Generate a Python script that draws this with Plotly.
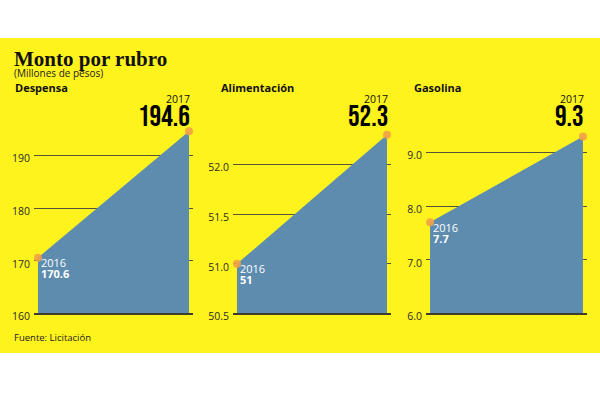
import plotly.graph_objects as go

# ---- data ----
years = [2016, 2017]
categories = ["Despensa", "Alimentación", "Gasolina"]
despensa = [170.6, 194.6]
alimentacion = [51, 52.3]
gasolina = [7.7, 9.3]
series = [despensa, alimentacion, gasolina]

ticks_despensa = [160, 170, 180, 190]
ticks_alimentacion = [50.5, 51.0, 51.5, 52.0]
ticks_gasolina = [6.0, 7.0, 8.0, 9.0]
tick_sets = [ticks_despensa, ticks_alimentacion, ticks_gasolina]
tick_formats = ["d", ".1f", ".1f"]

title = "Monto por rubro"
subtitle = "(Millones de pesos)"
source = "Fuente: Licitación"

# ---- style ----
W, H = 600, 400
YELLOW = "#FFF31E"
BLUE = "#5D8CAF"
ORANGE = "#F2A145"
DARK = "#2b2b2b"
GRID = "#55543a"

x_domains = [(34, 193), (233, 391), (426, 587)]
y_dom = (1 - 321.5 / H, 1 - 125 / H)
y_ranges = [(160, 196.39), (50.5, 52.43), (6.0, 9.573)]
pad = 4 / 151

fig = go.Figure()

for i, (name, vals) in enumerate(zip(categories, series)):
    xa = "x" if i == 0 else f"x{i+1}"
    ya = "y" if i == 0 else f"y{i+1}"
    fig.add_trace(go.Scatter(
        x=years, y=vals, xaxis=xa, yaxis=ya, mode="lines",
        line=dict(width=0, color=BLUE), fill="tozeroy", fillcolor=BLUE,
        hoverinfo="skip", showlegend=False))
    fig.add_trace(go.Scatter(
        x=years, y=vals, xaxis=xa, yaxis=ya, mode="markers",
        marker=dict(size=8, color=ORANGE, opacity=0.9),
        cliponaxis=False, showlegend=False, hoverinfo="skip"))

    x0, x1 = x_domains[i]
    xkey = "xaxis" if i == 0 else f"xaxis{i+1}"
    ykey = "yaxis" if i == 0 else f"yaxis{i+1}"
    fig.update_layout(**{
        xkey: dict(domain=[x0 / W, x1 / W], range=[years[0] - pad, years[1] + pad],
                   showgrid=False, zeroline=False, showticklabels=False,
                   showline=True, linecolor="#3d3d2e", linewidth=2,
                   anchor=ya, fixedrange=True),
        ykey: dict(domain=list(y_dom), range=list(y_ranges[i]),
                   tickvals=tick_sets[i], tickformat=tick_formats[i],
                   showgrid=True, gridcolor=GRID, gridwidth=1,
                   zeroline=False, showline=False, ticks="",
                   ticklabelshift=3, ticklabelstandoff=3,
                   tickfont=dict(family="Open Sans", size=10.5, color=DARK),
                   anchor=xa, fixedrange=True),
    })

    # panel title
    fig.add_annotation(text=f"<b>{name}</b>", xref="paper", yref="paper",
                       x=(x0 - 21 if i == 0 else x0 - 14) / W, y=1 - 90 / H,
                       xanchor="left", yanchor="middle", showarrow=False,
                       font=dict(family="Open Sans", size=11, color="#111"))
    # 2016 labels
    fig.add_annotation(text=str(years[0]), xref=xa, yref=ya, x=years[0], y=vals[0],
                       xanchor="left", yanchor="middle", xshift=1, yshift=-5,
                       showarrow=False,
                       font=dict(family="Open Sans", size=11, color="white"))
    fig.add_annotation(text=f"<b>{vals[0]:g}</b>", xref=xa, yref=ya, x=years[0], y=vals[0],
                       xanchor="left", yanchor="middle", xshift=1, yshift=-16,
                       showarrow=False,
                       font=dict(family="Open Sans", size=11, color="white"))
    # 2017 labels
    fig.add_annotation(text=str(years[1]), xref=xa, yref="paper", x=years[1], y=1 - 102 / H,
                       xanchor="right", yanchor="middle", xshift=3,
                       showarrow=False,
                       font=dict(family="Open Sans", size=10.5, color="#111"))
    fig.add_annotation(text=f"{vals[1]:g}", xref=xa, yref="paper", x=years[1], y=1 - 121 / H,
                       xanchor="right", yanchor="middle", xshift=3,
                       showarrow=False,
                       font=dict(family="Bebas Neue, Oswald", size=29, color="#000"))

# header
fig.add_annotation(text=f"<b>{title}</b>", xref="paper", yref="paper", x=12 / W, y=1 - 61 / H,
                   xanchor="left", yanchor="middle", showarrow=False,
                   font=dict(family="Liberation Serif", size=21, color="#111"))
fig.add_annotation(text=subtitle, xref="paper", yref="paper", x=12 / W, y=1 - 74.5 / H,
                   xanchor="left", yanchor="middle", showarrow=False,
                   font=dict(family="Open Sans", size=10, color="#222"))
fig.add_annotation(text=source, xref="paper", yref="paper", x=12 / W, y=1 - 346 / H,
                   xanchor="left", yanchor="middle", showarrow=False,
                   font=dict(family="Open Sans", size=9.5, color="#222"))

fig.add_shape(type="rect", xref="paper", yref="paper", x0=0, x1=1,
              y0=1 - 362 / H, y1=1 - 39 / H, fillcolor=YELLOW, line=dict(width=0),
              layer="below")

fig.update_layout(width=W, height=H, autosize=False, margin=dict(l=0, r=0, t=0, b=0),
                  paper_bgcolor="white", plot_bgcolor="rgba(0,0,0,0)",
                  showlegend=False)

fig.write_html("out.html", config={"displayModeBar": False, "responsive": False},
               post_script="document.body.style.margin='0';")
